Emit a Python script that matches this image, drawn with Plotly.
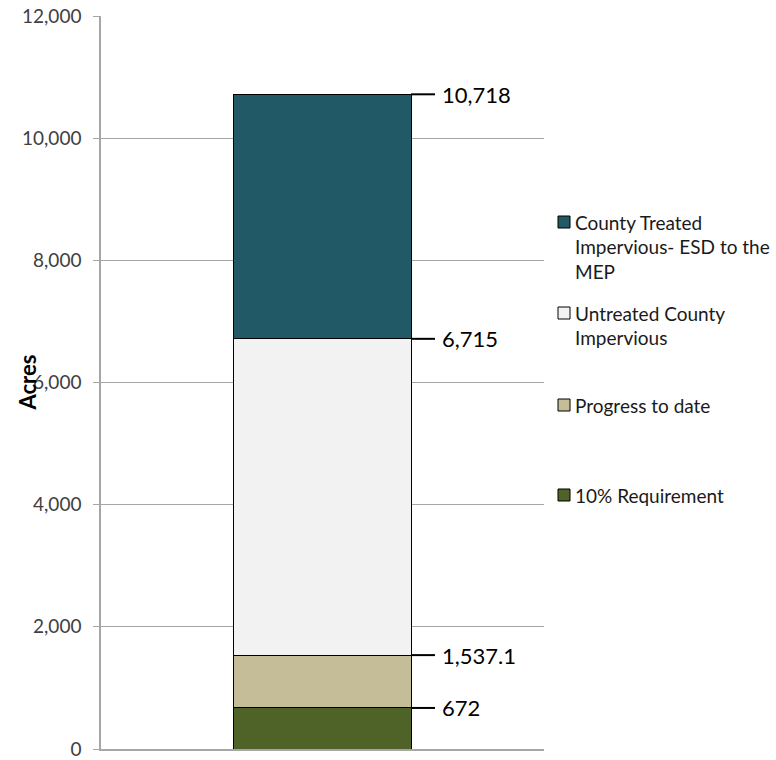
import plotly.graph_objects as go

# Impervious acreage, stacked from the bottom up
series_names = [
    "10% Requirement",
    "Progress to date",
    "Untreated County Impervious",
    "County Treated Impervious- ESD to the MEP",
]
segment_acres = [672, 865.1, 5177.9, 4003]
series_colors = ["#4F6228", "#C4BD97", "#F2F2F2", "#215967"]
cumulative_labels = ["672", "1,537.1", "6,715", "10,718"]
cumulative_values = [672, 1537.1, 6715, 10718]

y_ticks = [0, 2000, 4000, 6000, 8000, 10000, 12000]
y_tick_text = ["0", "2,000", "4,000", "6,000", "8,000", "10,000", "12,000"]

FONT = "Lato, 'Open Sans', sans-serif"
BAR_W = 0.4

fig = go.Figure()
for name, val, col in zip(series_names, segment_acres, series_colors):
    fig.add_trace(go.Bar(
        x=[0], y=[val], name=name, width=BAR_W,
        marker=dict(color=col, line=dict(color="#000000", width=1)),
        showlegend=False, hoverinfo="name+y",
    ))

shapes = []
annotations = []

# Leader lines and cumulative value labels on the right of the bar
for lab, v in zip(cumulative_labels, cumulative_values):
    shapes.append(dict(type="line", xref="x", yref="y",
                       x0=BAR_W / 2, x1=BAR_W / 2 + 0.054, y0=v, y1=v,
                       line=dict(color="#000000", width=2)))
    annotations.append(dict(x=BAR_W / 2 + 0.066, y=v, xref="x", yref="y",
                            text=lab, showarrow=False, xanchor="left",
                            yanchor="middle",
                            font=dict(family=FONT, size=22, color="#000000")))

PLOT_L, PLOT_R, PLOT_T, PLOT_B = 101, 544, 16, 749

def px_to_paper(xp, yp):
    return (xp - PLOT_L) / (PLOT_R - PLOT_L), (PLOT_B - yp) / (PLOT_B - PLOT_T)

# Axis title
ax_x, _ = px_to_paper(27, 0)
annotations.append(dict(x=ax_x, y=6000, xref="paper", yref="y",
                        text="<b>Acres</b>", textangle=-90, showarrow=False,
                        xanchor="center", yanchor="middle",
                        font=dict(family=FONT, size=22, color="#000000")))

# Legend drawn beside the plot, top series first
legend_items = [
    (3, ["County Treated", "Impervious- ESD to the", "MEP"], 222),
    (2, ["Untreated County", "Impervious"], 313),
    (1, ["Progress to date"], 405),
    (0, ["10% Requirement"], 495),
]
LINE_H = 24.5
for idx, lines, y_first in legend_items:
    sx0, sy0 = px_to_paper(558, y_first - 6)
    sx1, sy1 = px_to_paper(570, y_first + 6)
    shapes.append(dict(type="rect", xref="paper", yref="paper",
                       x0=sx0, x1=sx1, y0=sy1, y1=sy0,
                       fillcolor=series_colors[idx],
                       line=dict(color="#000000", width=1)))
    for k, txt in enumerate(lines):
        tx, ty = px_to_paper(573, y_first + k * LINE_H)
        annotations.append(dict(x=tx, y=ty, xref="paper", yref="paper",
                                text=txt, showarrow=False, xanchor="left",
                                yanchor="middle",
                                font=dict(family=FONT, size=19, color="#1a1a1a")))

fig.update_layout(
    template="none",
    barmode="stack",
    width=776, height=760,
    margin=dict(l=PLOT_L, r=776 - PLOT_R, t=PLOT_T, b=760 - PLOT_B, pad=0),
    paper_bgcolor="#FFFFFF", plot_bgcolor="#FFFFFF",
    shapes=shapes, annotations=annotations,
    xaxis=dict(range=[-0.5, 0.5], showticklabels=False, showgrid=False,
               zeroline=False, showline=True, linecolor="#A6A6A6",
               linewidth=1.5, ticks="", automargin=False),
    yaxis=dict(range=[0, 12000], tickvals=y_ticks, ticktext=y_tick_text,
               showgrid=True, gridcolor="#A6A6A6", gridwidth=1,
               zeroline=False, showline=True, linecolor="#A6A6A6",
               linewidth=1.5, ticks="outside", ticklen=6,
               tickcolor="#A6A6A6", ticklabelstandoff=8,
               ticklabeloverflow="allow", automargin=False,
               tickfont=dict(family=FONT, size=19, color="#404040")),
)

fig.write_html("out.html")
